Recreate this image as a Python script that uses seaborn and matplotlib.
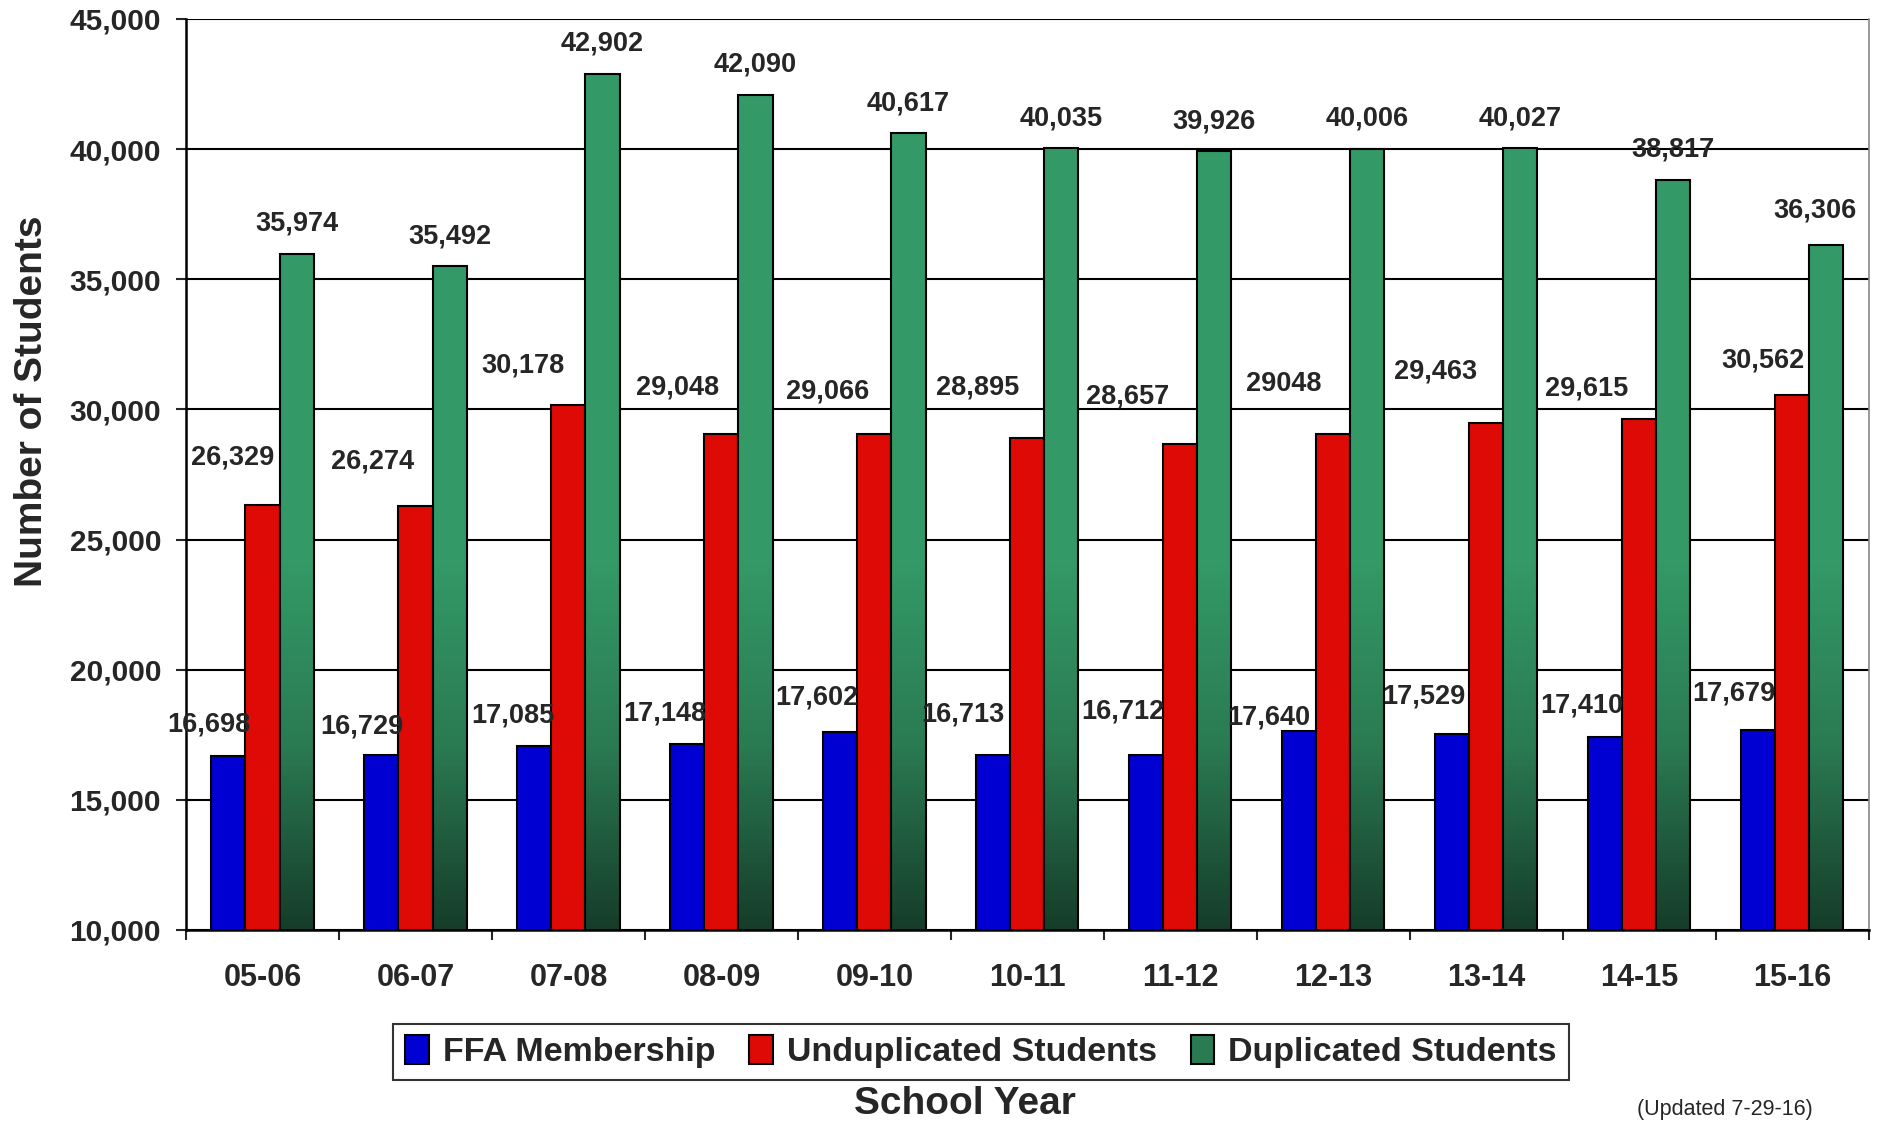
import numpy as np
import pandas as pd
import matplotlib
matplotlib.use('Agg')
import matplotlib.pyplot as plt
import matplotlib.patches as mpatches
from matplotlib.colors import LinearSegmentedColormap
import seaborn as sns

# chart data
years = ['05-06', '06-07', '07-08', '08-09', '09-10', '10-11',
         '11-12', '12-13', '13-14', '14-15', '15-16']
ffa = [16698, 16729, 17085, 17148, 17602, 16713, 16712, 17640, 17529, 17410, 17679]
undup = [26329, 26274, 30178, 29048, 29066, 28895, 28657, 29048, 29463, 29615, 30562]
dup = [35974, 35492, 42902, 42090, 40617, 40035, 39926, 40006, 40027, 38817, 36306]
ffa_labels = ['16,698', '16,729', '17,085', '17,148', '17,602', '16,713',
              '16,712', '17,640', '17,529', '17,410', '17,679']
undup_labels = ['26,329', '26,274', '30,178', '29,048', '29,066', '28,895',
                '28,657', '29048', '29,463', '29,615', '30,562']
dup_labels = ['35,974', '35,492', '42,902', '42,090', '40,617', '40,035',
              '39,926', '40,006', '40,027', '38,817', '36,306']
series = ['FFA Membership', 'Unduplicated Students', 'Duplicated Students']
colors = ['#0000d2', '#dd0a05', '#339966']

# label nudges (pixels) as placed in the original chart
ffa_off = [(-20, 31), (-20, 28), (-22, 30), (-23, 30), (-24, 35), (-31, 41),
           (-24, 44), (-31, 14), (-29, 37), (-24, 32), (-25, 37)]
undup_off = [(-30, 47), (-43, 45), (-46, 39), (-44, 47), (-47, 42), (-50, 51),
             (-53, 48), (-50, 50), (-51, 52), (-53, 31), (-29, 34)]
dup_off = [(0, 30)] * 10 + [(-11, 35)]

df = pd.DataFrame({
    'Year': years * 3,
    'Series': [series[0]] * 11 + [series[1]] * 11 + [series[2]] * 11,
    'Students': ffa + undup + dup,
})

sns.set_style('white')
plt.rcParams['font.family'] = ['Liberation Sans', 'DejaVu Sans']
plt.rcParams['font.weight'] = 'bold'

fig = plt.figure(figsize=(18.77, 11.23), dpi=100)
ax = fig.add_axes([0.0991, 0.1719, 0.8966, 0.8112])

sns.barplot(data=df, x='Year', y='Students', hue='Series', palette=colors,
            width=0.667, edgecolor='black', linewidth=1.5, saturation=1,
            legend=False, ax=ax)

# green gradient: light at top, dark toward the base
grad = LinearSegmentedColormap.from_list('g', ['#163d2a', '#2a7a52', '#339966', '#339966'],
                                         N=256)
gy = np.linspace(10000, 45000, 300).reshape(-1, 1)
gvals = np.clip((gy - 10000) / (31000 - 10000), 0, 1)
for p in ax.containers[2]:
    x0 = p.get_x()
    w = p.get_width()
    im = ax.imshow(gvals, cmap=grad, vmin=0, vmax=1, origin='lower', aspect='auto',
                   extent=[x0, x0 + w, 10000, 45000], zorder=p.get_zorder() + 0.1)
    im.set_clip_path(p)
    p.set_facecolor('none')
    p.set_zorder(p.get_zorder() + 0.2)
ax.set_xlim(-0.5, 10.5)
ax.set_ylim(10000, 45000)

# value labels
for cont, labs, offs in zip(ax.containers, [ffa_labels, undup_labels, dup_labels],
                            [ffa_off, undup_off, dup_off]):
    for p, lab, (dx, dy) in zip(cont, labs, offs):
        cx = p.get_x() + p.get_width() / 2
        ax.annotate(lab, (cx, p.get_height()), xytext=(dx * 0.72, dy * 0.72),
                    textcoords='offset points', ha='center', va='center',
                    fontsize=19.5, fontweight='bold')

# grid and axes
ax.set_yticks(range(10000, 45001, 5000))
ax.set_yticklabels([f'{v:,}' for v in range(10000, 45001, 5000)])
ax.yaxis.grid(True, color='black', linewidth=1.5)
ax.set_axisbelow(True)
ax.set_xticks(np.arange(-0.5, 11, 1), minor=True)
ax.tick_params(axis='x', which='major', length=0, pad=24, labelsize=22)
ax.tick_params(axis='x', which='minor', length=7, width=1.5, direction='out', bottom=True)
ax.tick_params(axis='y', length=7, width=1.5, direction='out', left=True, pad=11, labelsize=21.5)
for lab in ax.get_xticklabels() + ax.get_yticklabels():
    lab.set_fontweight('bold')
for s in ['left', 'bottom']:
    ax.spines[s].set_color('black')
    ax.spines[s].set_linewidth(1.8)
ax.spines['top'].set_visible(False)
ax.spines['right'].set_color('#888888')
ax.spines['right'].set_linewidth(1.2)
ax.set_xlabel('')
ax.set_ylabel('')

fig.text(32 / 1877, 1 - 401 / 1123, 'Number of Students', rotation=90,
         ha='center', va='center', fontsize=28, fontweight='bold')
fig.text(965 / 1877, 1 - 1104 / 1123, 'School Year', ha='center', va='center',
         fontsize=28, fontweight='bold')
fig.text(1725 / 1877, 1 - 1110 / 1123, '(Updated 7-29-16)', ha='center', va='center',
         fontsize=15.5, fontweight='normal')

handles = [mpatches.Patch(facecolor=c, edgecolor='black', linewidth=1.5)
           for c in ['#0000d2', '#dd0a05', '#2a7a52']]
leg = fig.legend(handles, series, loc='center', bbox_to_anchor=(0.5226, 0.0633),
                 ncol=3, fontsize=24.5, frameon=True, fancybox=False,
                 edgecolor='black', handlelength=0.7, handleheight=0.9,
                 handletextpad=0.4, columnspacing=1.0, borderpad=0.35)
leg.get_frame().set_linewidth(1.5)
for t in leg.get_texts():
    t.set_fontweight('bold')

fig.savefig('out.png', dpi=100)
